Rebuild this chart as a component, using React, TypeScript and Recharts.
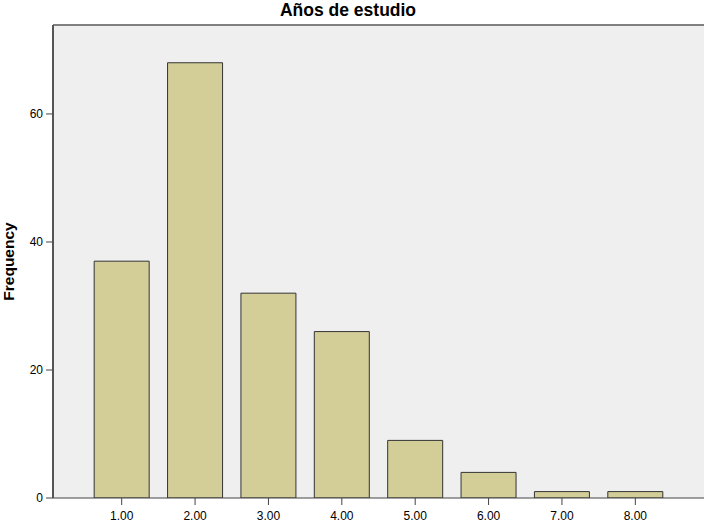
import React from 'react';
import { BarChart, Bar, XAxis, YAxis, CartesianGrid, ReferenceLine } from 'recharts';

// Años de estudio - frequency per category
const categories = ['1.00', '2.00', '3.00', '4.00', '5.00', '6.00', '7.00', '8.00'];
const frequencies = [37, 68, 32, 26, 9, 4, 1, 1];
const yTicks = [0, 20, 40, 60];
const yMax = 73.9;

const data = categories.map((c, i) => ({ years: c, frequency: frequencies[i] }));

const font = 'Arial, "Liberation Sans", sans-serif';

const App: React.FC = () => {
  return (
    <div style={{ position: 'absolute', left: 0, top: 0, width: 705, height: 524, background: '#fff' }}>
      {/* Title */}
      <div
        style={{
          position: 'absolute',
          left: 0,
          top: 0,
          width: 696,
          textAlign: 'center',
          fontFamily: font,
          fontWeight: 'bold',
          fontSize: 17.5,
          color: '#000',
        }}
      >
        Años de estudio
      </div>
      <BarChart
        width={705}
        height={524}
        data={data}
        margin={{ top: 25, right: 1, bottom: 0, left: 0 }}
        barCategoryGap="12.5%"
      >
        <CartesianGrid fill="#efefef" horizontal={false} vertical={false} />
        <XAxis
          dataKey="years"
          height={26}
          padding={{ left: 32, right: 32 }}
          tickSize={7}
          tickMargin={6}
          tick={{ fontSize: 12, fill: '#000', fontFamily: font }}
          tickLine={{ stroke: '#444' }}
          axisLine={{ stroke: '#444' }}
        />
        <YAxis
          width={53}
          domain={[0, yMax]}
          ticks={yTicks}
          allowDataOverflow
          tickSize={7}
          tickMargin={3}
          tick={{ fontSize: 12, fill: '#000', fontFamily: font }}
          tickLine={{ stroke: '#444' }}
          axisLine={{ stroke: '#555', strokeWidth: 2 }}
          label={{
            value: 'Frequency',
            angle: -90,
            position: 'insideLeft',
            offset: 8,
            style: { fontSize: 15.5, fontWeight: 'bold', fill: '#000', fontFamily: font, textAnchor: 'middle' },
          }}
        />
        <YAxis
          yAxisId="right"
          orientation="right"
          width={0}
          tick={false}
          tickLine={false}
          axisLine={{ stroke: '#444', strokeWidth: 2 }}
        />
        {/* plot frame top edge */}
        <ReferenceLine y={yMax} stroke="#808080" strokeWidth={2} ifOverflow="visible" />
        <Bar dataKey="frequency" fill="#d3ce97" stroke="#333" strokeWidth={1} isAnimationActive={false} />
      </BarChart>
    </div>
  );
};

export default App;
